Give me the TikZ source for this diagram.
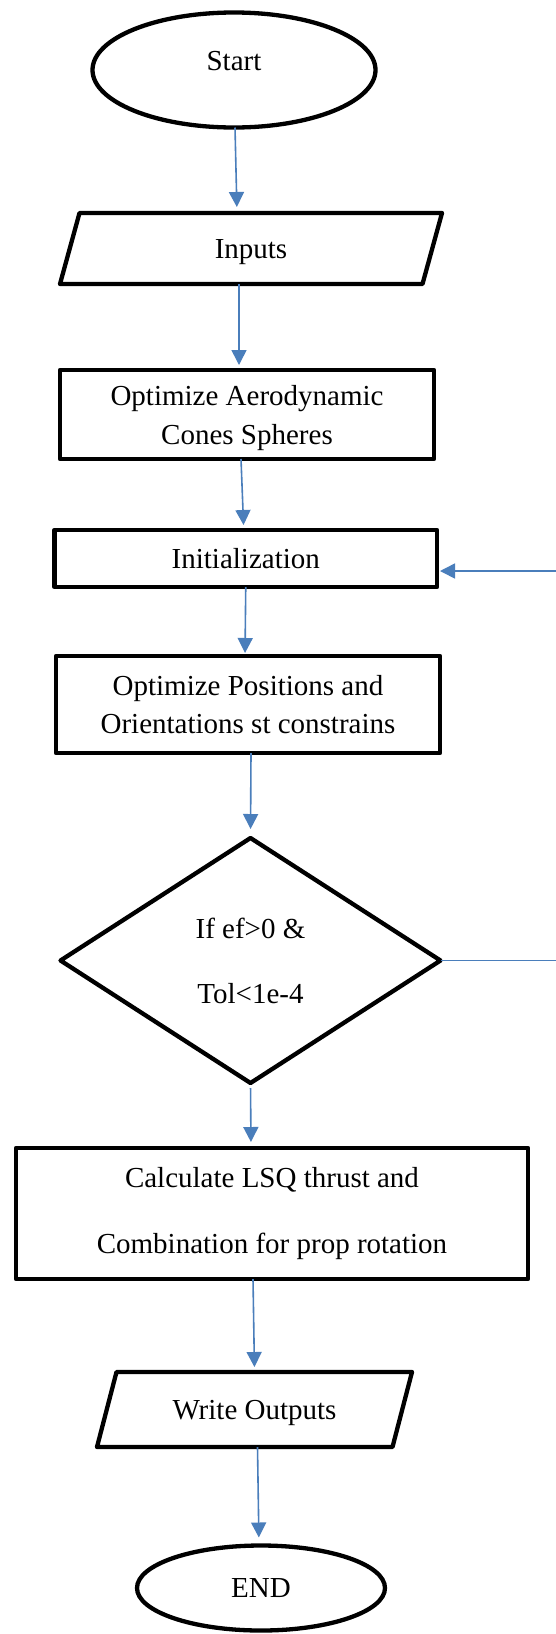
\documentclass[tikz,border=0pt]{standalone}
\usepackage{fontspec}
\setmainfont{Liberation Serif}
\usetikzlibrary{shapes.geometric,arrows.meta}
\definecolor{connblue}{HTML}{4A7EBB}
\begin{document}
\begin{tikzpicture}[x=1pt,y=-1pt,
  every node/.style={font=\fontsize{29}{39}\selectfont, inner sep=0pt, outer sep=0pt},
  outline/.style={draw=black, line width=4.3pt, line join=round},
  shapebox/.style={outline, rectangle, align=center},
  term/.style={outline, ellipse},
  iobox/.style={rectangle, text depth=0pt},
  decision/.style={outline, diamond, align=center},
  link/.style={draw=connblue, line width=1.6pt},
  arr/.style={link, -{Triangle[width=15pt,length=15pt]}},
]
\useasboundingbox[fill=white] (0,0) rectangle (556,1634);

\node[term, minimum width=283pt, minimum height=115pt, text height=12pt, text depth=12pt] (start) at (234,70) {Start};
\node[iobox, minimum width=382pt, minimum height=71pt] (in) at (251,248.5) {Inputs};
\draw[outline] ([xshift=19.5pt]in.north west) -- (in.north east) -- ([xshift=-19.5pt]in.south east) -- (in.south west) -- cycle;
\node[shapebox, minimum width=374pt, minimum height=89pt, text depth=0pt] (aero) at (247,414.5) {Optimize Aerodynamic\\Cones Spheres};
\node[shapebox, minimum width=382.5pt, minimum height=57pt] (init) at (245.75,558.5) {Initialization};
\node[shapebox, minimum width=384pt, minimum height=97pt, font=\fontsize{29}{38}\selectfont] (pos) at (248,704.5) {Optimize Positions and\\Orientations st constrains};
\node[decision, minimum width=380pt, minimum height=245pt, font=\fontsize{29}{65}\selectfont] (dec) at (250.5,960.5) {If ef>0 \&\\Tol<1e-4};
\node[shapebox, minimum width=512pt, minimum height=131pt, font=\fontsize{29}{66}\selectfont] (calc) at (272,1213.5) {Calculate LSQ thrust and\\Combination for prop rotation};
\node[iobox, minimum width=315pt, minimum height=75pt] (out) at (254.5,1409.5) {Write Outputs};
\draw[outline] ([xshift=19.5pt]out.north west) -- (out.north east) -- ([xshift=-19.5pt]out.south east) -- (out.south west) -- cycle;
\node[term, minimum width=248pt, minimum height=85pt] (end) at (261,1588) {END};

\draw[arr, shorten >=6pt] ([xshift=1pt]start.south) -- ([xshift=-14pt]in.north);
\draw[arr, shorten >=5pt] ([xshift=-12pt]in.south) -- ([xshift=-8pt]aero.north);
\draw[arr, shorten >=5pt] ([xshift=-6pt]aero.south) -- ([xshift=-2pt]init.north);
\draw[arr, shorten >=3pt] (init.south) -- ([xshift=-3pt]pos.north);
\draw[arr, shorten >=9pt] ([xshift=3pt]pos.south) -- (dec.north);
\draw[arr, shorten <=5pt, shorten >=6pt] (dec.south) -- ([xshift=-21pt]calc.north);
\draw[arr, shorten >=5pt] ([xshift=-19pt]calc.south) -- (out.north);
\draw[arr, shorten >=8pt] ([xshift=3pt]out.south) -- ([xshift=-2pt]end.north);

\coordinate (fbdec) at (556,960.5);
\coordinate (fbinit) at (556,571);
\draw[link] (dec.east) -- (fbdec);
\draw[arr, shorten >=3pt] (fbinit) -- (init.east |- fbinit);
\end{tikzpicture}
\end{document}
